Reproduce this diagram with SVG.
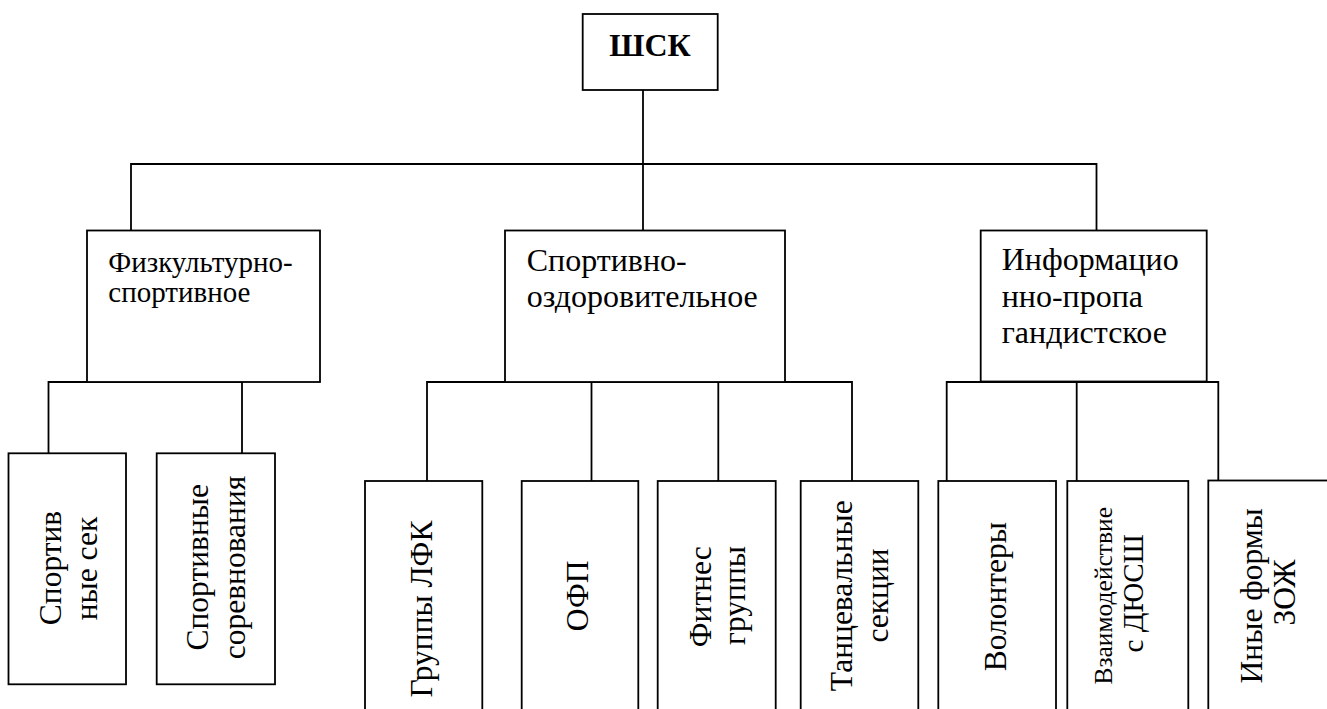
<svg xmlns="http://www.w3.org/2000/svg" width="1327" height="709" viewBox="0 0 1327 709" font-family="Liberation Serif, Times New Roman, serif">
<style>
.box{fill:#fff;stroke:#000;stroke-width:1.8}
.ln{fill:none;stroke:#000;stroke-width:1.8}
text{fill:#000}
.up{font-size:32px}
.upS{font-size:29px}
.rot{font-size:31.5px;text-anchor:middle}
.title{font-size:32px;font-weight:bold;text-anchor:middle}
</style>
<rect width="1327" height="709" fill="#fff"/>
<g id="connectors">
<path class="ln" d="M643,90 V230"/>
<path class="ln" d="M131,230 V164 H1096.5 V230"/>
<path class="ln" d="M48.5,453 V382 H242 V453"/>
<path class="ln" d="M427,481 V382 H852 V481"/>
<path class="ln" d="M591.5,382 V481"/>
<path class="ln" d="M718.3,382 V481"/>
<path class="ln" d="M946.7,481 V382 H1218.3 V481"/>
<path class="ln" d="M1076.7,382 V481"/>
</g>
<g id="n-shk">
<rect class="box" x="582.7" y="14" width="135" height="76"/>
<text class="title" x="650" y="55.7">ШСК</text>
</g>
<g id="n-fiz">
<rect class="box" x="87" y="230.5" width="233" height="151.5"/>
<text class="upS" x="108.3" y="271.7">Физкультурно-</text>
<text class="upS" x="108.3" y="301.7">спортивное</text>
</g>
<g id="n-sport">
<rect class="box" x="505" y="230.5" width="280" height="151.5"/>
<text class="up" x="526.7" y="271">Спортивно-</text>
<text class="up" x="526.7" y="306.7">оздоровительное</text>
</g>
<g id="n-info">
<rect class="box" x="980.7" y="230.5" width="226" height="151"/>
<text class="up" x="1001.7" y="270">Информацио</text>
<text class="up" x="1001.7" y="306.7">нно-пропа</text>
<text class="up" x="1001.7" y="343.3">гандистское</text>
</g>
<g id="n-sekcii">
<rect class="box" x="8.5" y="453.3" width="117.5" height="231"/>
<text class="rot" transform="translate(60.5,568) rotate(-90)">Спортив</text>
<text class="rot" transform="translate(97.3,568.5) rotate(-90)">ные сек</text>
</g>
<g id="n-sorevn">
<rect class="box" x="156.7" y="453.3" width="118.3" height="231"/>
<text class="rot" transform="translate(208.3,567.3) rotate(-90)">Спортивные</text>
<text class="rot" transform="translate(245,567.5) rotate(-90)">соревнования</text>
</g>
<g id="n-lfk">
<rect class="box" x="365" y="481" width="117.3" height="240"/>
<text class="rot" transform="translate(431.7,609) rotate(-90)">Группы ЛФК</text>
</g>
<g id="n-ofp">
<rect class="box" x="521.7" y="481" width="116.6" height="240"/>
<text class="rot" transform="translate(588.3,595.8) rotate(-90)">ОФП</text>
</g>
<g id="n-fitnes">
<rect class="box" x="657.7" y="481" width="118" height="240"/>
<text class="rot" transform="translate(711,596.7) rotate(-90)">Фитнес</text>
<text class="rot" transform="translate(745,595.5) rotate(-90)">группы</text>
</g>
<g id="n-tanc">
<rect class="box" x="800.7" y="481" width="117.6" height="240"/>
<text class="rot" transform="translate(851.7,595.8) rotate(-90)">Танцевальные</text>
<text class="rot" transform="translate(888.3,595.5) rotate(-90)">секции</text>
</g>
<g id="n-volont">
<rect class="box" x="938.3" y="481" width="117.7" height="240"/>
<text class="rot" transform="translate(1006,596.7) rotate(-90)">Волонтеры</text>
</g>
<g id="n-dyussh">
<rect class="box" x="1067.3" y="481" width="121" height="240"/>
<text class="rot" style="font-size:25.5px" transform="translate(1111.7,595.8) rotate(-90)">Взаимодействие</text>
<text class="rot" style="font-size:29px" transform="translate(1143.3,593.3) rotate(-90)">с ДЮСШ</text>
</g>
<g id="n-zozh">
<rect class="box" x="1208.3" y="480.5" width="140" height="240"/>
<text class="rot" transform="translate(1261.7,595.8) rotate(-90)">Иные формы</text>
<text class="rot" transform="translate(1295,592.5) rotate(-90)">ЗОЖ</text>
</g>
</svg>
